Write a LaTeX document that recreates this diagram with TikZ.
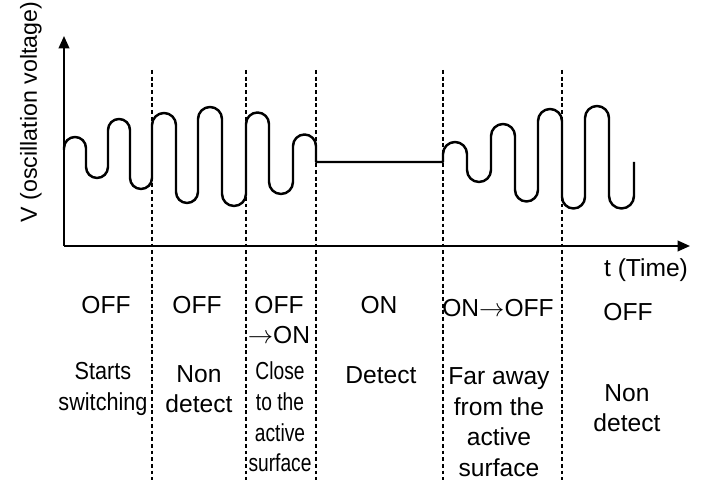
\documentclass[tikz,border=0pt]{standalone}
\usepackage{fontspec}
\setmainfont{Liberation Sans}
\usetikzlibrary{arrows.meta}
\begin{document}
\begin{tikzpicture}[x=0.02cm, y=0.02cm, thick,
  axis/.style={line width=1.1pt, -{Triangle[length=7pt, width=6pt]}},
  sep/.style={line width=0.6pt, dash pattern=on 2.2pt off 1.6pt},
  wave/.style={line width=1.4pt, line join=round},
  lbl/.style={font=\fontsize{14}{17.4}\selectfont, align=center, inner sep=0pt}]
\useasboundingbox (0,0) rectangle (701,500);
% Axes
\coordinate (o) at (64,254);
\coordinate (vtop) at (64,464);
\coordinate (tend) at (690,254);
\draw[axis] (o) -- (vtop);
\draw[axis] (o) -- (tend);
\node (vlabel) [lbl, font=\fontsize{13.2}{16}\selectfont, rotate=90] at (31,388) {V (oscillation voltage)};
\node (tlabel) [lbl] at (646,230) {t (Time)};

% Separators
\foreach \x in {152,246,316,443,562}
  \draw[sep] (\x,430) -- (\x,20);

% Oscillation
\draw[wave] (64,350) -- (64,352) arc (180:0:11) -- (86,333) arc (180:360:11)
  -- (108,370) arc (180:0:11) -- (130,322) arc (180:360:11)
  -- (152,375) arc (180:0:12) -- (176,308) arc (180:360:11)
  -- (198,381) arc (180:0:12) -- (222,306) arc (180:360:12)
  -- (246,376) arc (180:0:11.5) -- (269,318) arc (180:360:12)
  -- (293,354) arc (180:0:11.5) -- (316,338) -- (443,338)
  -- (443,346) arc (180:0:12) -- (467,330) arc (180:360:12)
  -- (491,364) arc (180:0:12) -- (515,310) arc (180:360:11.5)
  -- (538,379) arc (180:0:12) -- (562,303) arc (180:360:11.5)
  -- (585,382) arc (180:0:12) -- (609,304) arc (180:360:12.5)
  -- (634,338);

% Output state
\node (st1) [lbl] at (106,195) {OFF};
\node (st2) [lbl] at (197,195) {OFF};
\node (st3) [lbl] at (279,180) {OFF\\$\rightarrow$ON};
\node (st4) [lbl] at (379,195) {ON};
\node (st5) [lbl] at (498,192) {ON$\rightarrow$OFF};
\node (st6) [lbl] at (628,188) {OFF};

% Target position
\node (ds1) [lbl, xscale=0.88, transform shape] at (103,111) {Starts\\switching};
\node (ds2) [lbl] at (199,111) {Non\\detect};
\node (ds3) [lbl, xscale=0.78, transform shape] at (280,83) {Close\\to the\\active\\surface};
\node (ds4) [lbl] at (381,125) {Detect};
\node (ds5) [lbl] at (499,78) {Far away\\from the\\active\\surface};
\node (ds6) [lbl] at (627,92) {Non\\detect};
\end{tikzpicture}
\end{document}
